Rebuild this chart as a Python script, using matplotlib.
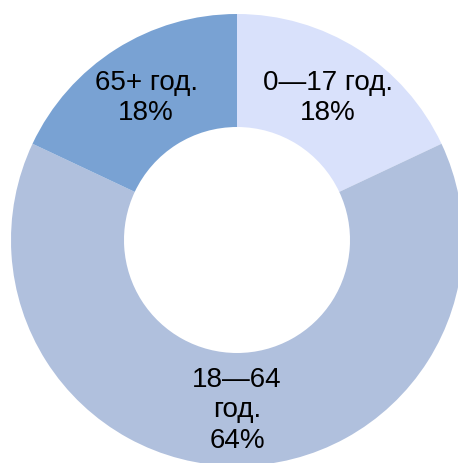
import matplotlib
matplotlib.use("Agg")
import matplotlib.pyplot as plt
import numpy as np

labels = ["0\u201417 год.", "18\u201464\nгод.", "65+ год."]
shares = [18, 64, 18]
colors = ["#d9e1fb", "#b0c0dd", "#79a2d3"]

plt.rcParams["font.family"] = ["Liberation Sans", "DejaVu Sans"]

W, H = 458, 464
fig = plt.figure(figsize=(W / 100, H / 100), dpi=100)
ax = fig.add_axes([0, 0, 1, 1])

R = 226
cx, cy = 237, H - 241
wedges, _ = ax.pie(shares, colors=colors, startangle=90, counterclock=False,
                   radius=R, center=(cx, cy), wedgeprops=dict(width=R * 0.5, linewidth=0))

for w, lab, v in zip(wedges, labels, shares):
    ang = np.deg2rad((w.theta1 + w.theta2) / 2)
    r = R * 0.75
    ax.text(cx + r * np.cos(ang), cy + r * np.sin(ang), f"{lab}\n{v}%",
            ha="center", va="center", fontsize=20, linespacing=1.22, color="black")

ax.set_xlim(0, W)
ax.set_ylim(0, H)
ax.set_aspect("equal")
ax.axis("off")
fig.savefig("out.png", dpi=100)
